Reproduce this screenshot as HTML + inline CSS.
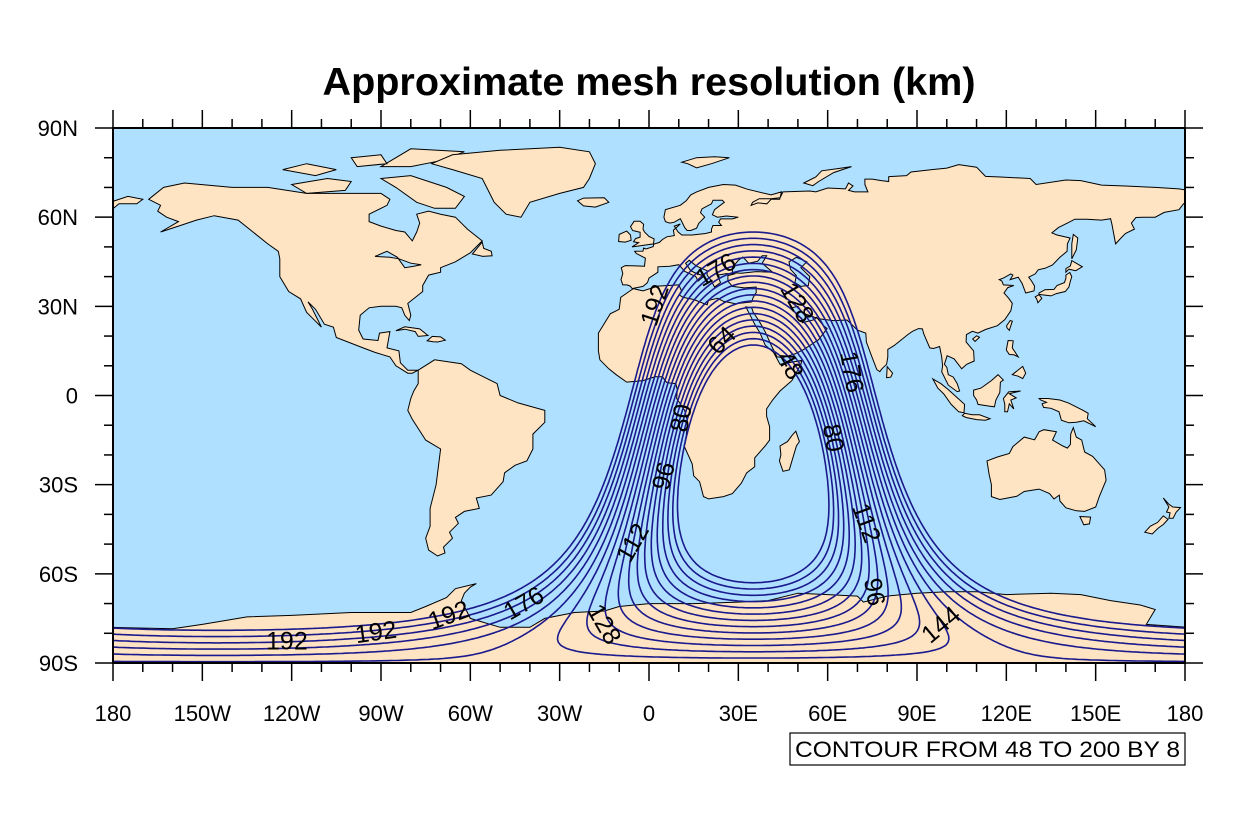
<!DOCTYPE html>
<html><head><meta charset="utf-8"><style>
html,body{margin:0;padding:0;background:#fff;}
svg{display:block;font-family:"Liberation Sans",Arial,sans-serif;}
</style></head><body>
<svg id="chart" width="1238" height="840" viewBox="0 0 1238 840" xmlns="http://www.w3.org/2000/svg">
<defs><clipPath id="plotclip"><rect x="113" y="128" width="1072" height="535"/></clipPath></defs>
<text x="649" y="95" text-anchor="middle" font-size="39" font-weight="bold" textLength="653" lengthAdjust="spacingAndGlyphs">Approximate mesh resolution (km)</text>
<g id="plot" clip-path="url(#plotclip)">
<rect x="113" y="128" width="1072" height="535" fill="#b0e0ff"/>
<g id="land"></g>
<g id="contours"></g>
</g>
<g id="clabels"></g>
<rect x="113" y="128" width="1072" height="535" fill="none" stroke="#000" stroke-width="2"/>
<g id="axes"></g>
<g>
<rect x="790" y="733" width="395" height="32" fill="#fff" stroke="#000" stroke-width="1.2"/>
<text x="987.5" y="757" text-anchor="middle" font-size="22" textLength="385" lengthAdjust="spacingAndGlyphs">CONTOUR FROM 48 TO 200 BY 8</text>
</g>
</svg>
<script>
// ---- data ----
const levels = [48,56,64,72,80,88,96,104,112,120,128,136,144,152,160,168,176,184,192];
const centerLon = 35, centerLat = -23;
const innerRadius = 40, outerRadius = 78, innerRes = 48, outerRes = 192, aspect = 1.8;
const xTickLabels = ["180","150W","120W","90W","60W","30W","0","30E","60E","90E","120E","150E","180"];
const xTickLons = [-180,-150,-120,-90,-60,-30,0,30,60,90,120,150,180];
const yTickLabels = ["90N","60N","30N","0","30S","60S","90S"];
const yTickLats = [90,60,30,0,-30,-60,-90];
const labelText = ["176","192","64","128","48","176","80","80","96","112","112","96","144","176","192","192","192","128"];
const labelLon = [22.5,2,24.5,49.7,47.3,68,10.9,61.8,5,-5.4,72.9,75.6,98.1,-42.0,-67.2,-91.7,-121.6,-15.1];
const labelLat = [42.2,30.4,18.5,31.2,10.1,7.9,-7.6,-14.3,-27.1,-49.6,-42.9,-66.1,-77.2,-70.0,-74.0,-79.7,-82.8,-77.0];
const labelAngle = [-30,-72,-45,60,60,80,-80,80,-75,-60,70,80,-40,-30,-20,-8,0,60];

const land = [
[[-168,66],[-163,70],[-156,71.5],[-140,70],[-128,70],[-115,68],[-95,68],[-90,68],[-87,66],[-88,64],[-94,61],[-94,58.5],[-90,57],[-85,55.5],[-82,55],[-79.5,52],[-78,55],[-77,58],[-78,61],[-74,62],[-70,61],[-65,60],[-61,56],[-56,52],[-60,48],[-65,45],[-70,43],[-70,41.5],[-74,40.5],[-76,37],[-76,35],[-81,31],[-80,27],[-80.5,25.2],[-82,27],[-83,29.5],[-85,30],[-90,30],[-94,29.5],[-97,27],[-97.5,22],[-96,19],[-91,18.5],[-90.5,21],[-87,21.5],[-88,16],[-84,15],[-83.5,11],[-81,8.5],[-77.5,8.5],[-79.5,7.5],[-81,7.5],[-85,10],[-87,13],[-92,14.5],[-96,16],[-105,19.5],[-106,23],[-109,24],[-112,29],[-114.5,31.5],[-113,29],[-110,23],[-112,25],[-115,28],[-117,32.5],[-121,35],[-124,40],[-124,46],[-124.5,48.5],[-128,51],[-133,55],[-138,59],[-146,60.5],[-152,59],[-158,57],[-164,55],[-158,58.5],[-162,60],[-165,62],[-164,64]],
[[-90,73],[-80,74],[-68,70],[-62,67],[-65,63],[-72,63],[-78,65],[-85,70]],
[[-120,71],[-108,73],[-100,72],[-102,69],[-115,68]],
[[-123,76],[-115,78],[-105,76],[-112,74]],
[[-90,77],[-80,83],[-62,82],[-70,79],[-80,77]],
[[-100,80],[-90,81],[-88,78],[-98,77]],
[[-73,78],[-66,81],[-50,82.5],[-30,83.5],[-20,82],[-18,78],[-20,73],[-22,70],[-30,68],[-40,65],[-43,60],[-48,61],[-52,65],[-54,69],[-56,73],[-66,76]],
[[-24,65.5],[-22,66.4],[-15,66.5],[-13.5,65],[-18,63.4],[-22,63.8]],
[[-77.5,8.5],[-72,12],[-63,10.7],[-60,8.5],[-55,6],[-51,4],[-50,0],[-44,-2.5],[-35,-5],[-35,-9],[-39,-13],[-39,-18],[-41,-22],[-45,-23.5],[-48.5,-26],[-49,-29],[-53,-33.5],[-58,-34.5],[-57,-38],[-62,-39],[-65,-41],[-64,-43],[-67,-46],[-66,-48],[-69,-51],[-68.5,-53],[-71,-54],[-74,-52],[-75,-48],[-73.5,-44],[-73.5,-38],[-71.5,-30],[-70,-18],[-75,-15],[-79.5,-8],[-81,-5],[-80,-1],[-79,1.5],[-77.5,4]],
[[-5.5,35.8],[-9.5,33],[-10,29],[-13,27.5],[-17,21],[-17,15],[-16.5,12],[-13.5,9],[-11,7],[-7.5,4.5],[-2,5],[2,6.3],[4.5,6.3],[6,4.3],[9,4],[9.5,2],[9.3,-1],[12,-5],[13,-9],[12.5,-13.5],[11.8,-17],[14.5,-23],[15,-27],[17,-29],[18.3,-34],[20,-34.8],[25,-34],[28,-33],[31,-29.5],[32.8,-26],[35.5,-24],[35.5,-21],[39,-17],[40.5,-15],[40.5,-10.5],[39.5,-7],[39.5,-4.5],[41.5,-1.5],[44,1.5],[48,5],[51,10.5],[51.3,11.8],[44,10.5],[43.3,11.8],[41.8,14.5],[39,17],[37.3,21],[35.5,24],[34,27],[32.5,29.8],[34.5,29.5],[35,28],[37,25],[39,21.5],[41,17],[43,13],[45,12.8],[49,14],[52,15.5],[55,17.5],[57,18.8],[59.8,22.5],[58.5,23.6],[56.3,26.3],[55.5,25.5],[51.5,24.5],[51.3,26],[50,26.5],[48,29.5],[50,30],[51.5,27.8],[54.5,26.7],[57,25.8],[62,25.2],[66.5,25.4],[68.5,23.5],[70,22],[72.8,21],[73,18],[74.5,14],[76.5,8.7],[77.5,8],[78.2,9],[79.8,10.5],[80.2,13],[80.2,15.5],[82.3,16.8],[86.9,20.5],[88.5,21.6],[90.5,22.5],[91.8,22.4],[92.3,20.7],[94.3,16],[95.5,15.8],[97.6,16.5],[98.3,13],[98.6,10],[98.3,8],[100.5,3.5],[103.5,1.3],[104.3,1.5],[103.5,4],[102.2,6.2],[100.5,7],[100,9.5],[99.2,10.5],[100.1,13.4],[102.5,12.3],[105,9],[106.7,10.5],[109.2,11.6],[109,15],[106.5,18],[106.6,20.5],[108.6,21.6],[110.5,21],[113,22.2],[117,23.5],[119.5,25.5],[121.5,28.5],[122,31],[120.8,32.7],[119.2,34.5],[120.5,36.3],[122.5,37],[119,37.2],[118.5,38.5],[117.6,39],[119,39.5],[121.5,40.9],[122.2,40.5],[121.3,39],[124,39.8],[125.3,37.7],[126.5,34.5],[129.3,35.2],[129.5,36.8],[128.5,38.5],[127.5,39.8],[129.7,40.9],[130.7,42.3],[133,42.8],[135.5,43.9],[138,46.5],[140.4,48.5],[140.5,51],[141.4,53],[137,54],[135.3,54.7],[137.5,56.5],[140.5,58],[143,59.3],[147,59.3],[152,59],[155,59.5],[155.5,57.5],[156.7,51],[158.5,53],[160,54.5],[163,56],[162,58],[163.5,59.9],[166,60],[170,60],[173,61.6],[178,62.5],[179.5,64.5],[181,65],[181,69],[178,69.5],[170,70],[160,70.5],[152,70.8],[145,72.3],[140,72.5],[130,71],[128,73],[118,73.5],[113,73.7],[110,76.8],[104,77.7],[100,76.5],[95,76],[88,75.2],[86.5,74],[80.5,73.6],[80.5,72],[78,72.3],[75,72.8],[72.5,72.8],[72.5,71],[73.5,68.5],[69,68.5],[67,69],[68.5,70.5],[67,71.5],[66,69.5],[60,69.8],[56,68.5],[54,68.8],[45,68.5],[44,66.5],[41,66.2],[37,66.2],[34.8,65],[34.3,64],[36.5,64.8],[39.6,64.5],[41,66],[43.9,66],[44.5,68.5],[41,67.5],[33,69.4],[29,70.8],[25,71],[20,70],[16,68.5],[14,67.5],[12.5,65.5],[10.5,64],[5.5,62.5],[5,60],[5.5,58.5],[7,58],[8.5,58.3],[10.5,59.5],[11,58.5],[12,56.5],[12.8,55.5],[14,55.5],[16,56.3],[16.7,57.9],[18.7,60],[17.3,61.5],[17.8,62.8],[21,64.5],[21.5,65.7],[24.6,65.7],[25.3,65],[22,62.5],[21.3,60.8],[23,60],[26,60.4],[30,60],[28,59.4],[24,59.4],[23.4,58.3],[24.3,57.2],[21.5,57.2],[21,56],[21,55],[19,54.5],[14.5,54],[11,54],[9.8,55],[8.5,57],[10.5,57.7],[8.2,55.6],[8.5,53.8],[6,53.4],[4.5,52.5],[3.5,51.5],[1.6,50.9],[1.4,50.1],[-1,49.3],[-1.8,49.6],[-2,48.6],[-4.8,48.5],[-4.3,47.8],[-1.2,46.2],[-1.5,43.5],[-8,43.7],[-9.3,43],[-8.8,41],[-9.4,39],[-8.8,37.2],[-7.4,37.2],[-6.3,36.8]],
[[-181,65],[-175,67],[-170,66],[-172,64.5],[-178,64.5],[-181,62]],
[[-5.7,50],[1.5,51],[1.7,52.7],[0,53.5],[-1.5,55],[-2,56],[-1.8,57.6],[-3,58.6],[-5,58.6],[-6.2,56.8],[-5.5,55.5],[-3,54.9],[-3,53.3],[-4.5,52.8],[-5.2,51.7],[-3.5,51.4]],
[[-6,52.2],[-6.2,54],[-7.5,55.3],[-10,54.2],[-10.2,51.8],[-8,51.6]],
[[49.3,-12],[50.5,-15.5],[49.5,-17],[47.1,-25],[45,-25.5],[43.8,-22],[44.3,-20],[44,-17],[46.5,-15.5],[48,-13.5]],
[[79.8,6],[80,9.7],[81.8,7.5],[81.2,6.2]],
[[130.9,34],[135,33.5],[136.8,34.3],[139.8,35],[141,36.5],[141.5,38.5],[142,40],[141.3,41.4],[140,40.5],[140,39.4],[139.5,38],[137,37],[136,35.7],[133,35.6],[131,34.5]],
[[140,41.5],[141,42.5],[143.3,42],[145.5,43.3],[142,45.4],[141.5,43.6],[140,42.7]],
[[129.7,33.2],[131,33.9],[131.9,32.7],[130.6,31.2],[130.2,32.5]],
[[142,46],[143.5,49],[144,53],[142.5,54.2],[142,51]],
[[120.2,22.8],[121,21.9],[122,25],[121.3,25.2],[120.1,23.5]],
[[108.7,19],[110,20.1],[111,19.6],[109.5,18.2]],
[[120.6,18.5],[122.3,18.4],[122,16],[124,13],[122.5,13.7],[121,13.8],[120,15.3]],
[[122,7],[125.5,9.8],[126.5,7.5],[125.5,5.7],[124,6.5]],
[[109,1.8],[111.5,2.5],[115,5],[117.2,7],[119,5.2],[118,4.5],[117.8,1],[116.5,-1.5],[116,-3.8],[114.5,-3.6],[110.5,-3],[110,-1.5],[109,0]],
[[95.3,5.6],[98,4],[100.5,2],[103.8,-1],[106,-3],[105.8,-5.8],[104,-5.5],[101.5,-3],[99,0.5],[97,2.5]],
[[105.2,-6.8],[106,-6],[108.5,-6.5],[111,-6.5],[114.5,-7.8],[113,-8.3],[110,-8.1],[106.5,-7.4]],
[[119.5,-5.5],[119.5,-3],[119,-1],[120.8,1.2],[124.8,1.5],[121,0.6],[123.3,-0.8],[121.5,-1.5],[122.5,-4.5],[121,-2.8],[120.4,-5.5]],
[[131,-1],[134,-1],[138,-1.5],[141,-2.6],[145.8,-5],[147.5,-6],[147.2,-7.8],[150,-10.5],[146,-8.5],[143.5,-9],[141,-9.2],[138.5,-8.3],[137.7,-5.5],[135,-4.3],[132.5,-4],[132,-2.8],[133.5,-2.3],[131.5,-1.5]],
[[113.5,-22],[114.2,-26.5],[115,-30],[115,-34],[117.8,-35],[123.5,-33.9],[126,-32.3],[131,-31.5],[134.5,-33],[136,-34.8],[137.8,-33.5],[138,-35.5],[140,-37.8],[143.5,-38.8],[146.3,-39],[150,-37.5],[151.3,-33.8],[153.5,-28.5],[153,-25],[150.8,-22.5],[149,-20.5],[146.3,-19],[145.3,-15],[143.5,-14],[142.5,-10.8],[141.6,-13],[141.5,-16.5],[140.5,-17.7],[139,-17],[135.5,-15],[136.8,-12.2],[132.6,-11.5],[131,-12.2],[129.5,-14.9],[126,-14],[122.2,-17.2],[121,-19.5],[117,-20.7]],
[[144.7,-40.7],[148.3,-40.9],[147.9,-43.2],[146,-43.5]],
[[172.7,-34.5],[174.5,-36.5],[175.9,-37.5],[178.5,-37.7],[177,-39.3],[176,-41.3],[174.6,-41.3],[175,-39.5],[173.8,-39.2],[174.6,-37.5]],
[[172.7,-40.5],[174.3,-41.7],[172.7,-43.4],[171,-44.6],[169,-46.6],[166.5,-46],[168.3,-44],[170.8,-42.7]],
[[11,78.5],[16,80],[22,80.3],[27,80],[21,78],[16,76.6],[13,78]],
[[52,71.5],[56,73.5],[58,75.6],[64,76.4],[68,77],[62,75],[57,72],[55,70.6]],
[[-85,21.8],[-82,23.1],[-77,22.4],[-74.2,20.2],[-77.5,19.9],[-78.5,21.5],[-82,22.3]],
[[-74.5,18.4],[-72.8,19.9],[-70,19.7],[-68.4,18.6],[-71,18],[-72.5,18.1]],
[[-59.3,47.6],[-56,51.6],[-55.5,49.5],[-53,48.5],[-52.7,47],[-55.8,46.8]],
[[-181,-78],[-160,-78.5],[-150,-77],[-135,-74.5],[-120,-74],[-100,-73],[-80,-73],[-75,-71],[-68,-68],[-65,-65],[-58,-63.3],[-60,-64.5],[-62,-66.5],[-63,-69],[-61,-73],[-60,-75],[-50,-78],[-40,-78],[-35,-75],[-25,-73],[-15,-72.5],[-10,-71],[0,-70],[15,-70],[30,-69.5],[40,-69],[50,-66.5],[60,-67],[70,-67.5],[72,-69.5],[80,-67.5],[90,-66.5],[100,-66],[110,-66],[120,-67],[135,-66.5],[145,-67],[155,-69],[165,-70.5],[170,-72],[167,-77],[181,-78],[181,-91],[-181,-91]]
];
const water = [
[[-5.5,36],[-2,35.2],[3,36.8],[10,37.2],[11,35],[10.2,33.8],[11.5,33],[15,32.3],[19.5,30.5],[20,32],[23,32.7],[25,31.7],[29,30.9],[32,31.2],[34.5,31.5],[35,33],[36,34.6],[36,36.5],[32,36.2],[28,36.7],[26.5,38.5],[26.5,40.3],[29,41],[26,41],[23,40.5],[24,38],[22,36.5],[21,38.5],[19.5,40.5],[19.5,42],[16,43.5],[13.5,45.5],[12.3,44.5],[14,42],[16,41],[18.5,40.2],[16.5,38.5],[15.7,40],[12,41.8],[10,44],[7,43.5],[3,43.3],[3,41.5],[0,39.5],[-0.5,38],[-2,36.7]],
[[28,41.3],[28,43],[30,45.5],[31.5,46.6],[33.5,44.5],[36.5,45.2],[38,47],[39.5,47],[38,44.5],[41.5,41.5],[36,41.7],[31,41.1]],
[[47,45],[49.5,46.5],[53,45],[51,43],[52.5,41.5],[54,40],[53.5,37],[51,36.7],[49,38],[49.5,40.3],[47.5,42.5]],
[[-88,48.5],[-84.5,46.5],[-82,43],[-79,43.5],[-76.5,44],[-80,44.5],[-84,46],[-87,46.5],[-92,46.8]]
];

// ---- projection ----
const X0 = 113, X1 = 1185, Y0 = 128, Y1 = 663;
function X(lon){ return X0 + (lon + 180) / 360 * (X1 - X0); }
function Y(lat){ return Y0 + (90 - lat) / 180 * (Y1 - Y0); }
const NS = 'http://www.w3.org/2000/svg';
function mk(tag, attrs, parent){ const e = document.createElementNS(NS, tag); for (const k in attrs) e.setAttribute(k, attrs[k]); parent.appendChild(e); return e; }

// ---- land ----
const landG = document.getElementById('land');
function polyPath(pts){ return 'M' + pts.map(p => X(p[0]).toFixed(1) + ',' + Y(p[1]).toFixed(1)).join('L') + 'Z'; }
land.forEach(poly => {
  const p = mk('path', {d: polyPath(poly), fill: '#ffe4c4', stroke: '#000', 'stroke-width': '1'}, landG);
  
  
});
water.forEach(poly => {
  const p = mk('path', {d: polyPath(poly), fill: '#b0e0ff', stroke: '#000', 'stroke-width': '1'}, landG);
  
  
});

// ---- field ----
const R = Math.PI / 180;
const la0 = centerLat * R, lo0 = centerLon * R;
const cv = [Math.cos(la0)*Math.cos(lo0), Math.cos(la0)*Math.sin(lo0), Math.sin(la0)];
const ev = [-Math.sin(lo0), Math.cos(lo0), 0];
const nv = [-Math.sin(la0)*Math.cos(lo0), -Math.sin(la0)*Math.sin(lo0), Math.cos(la0)];
function field(lon, lat){
  const la = lat*R, lo = lon*R;
  const p = [Math.cos(la)*Math.cos(lo), Math.cos(la)*Math.sin(lo), Math.sin(la)];
  const cz = p[0]*cv[0]+p[1]*cv[1]+p[2]*cv[2];
  const pe = p[0]*ev[0]+p[1]*ev[1]+p[2]*ev[2];
  const pn = p[0]*nv[0]+p[1]*nv[1]+p[2]*nv[2];
  const th = Math.acos(Math.max(-1, Math.min(1, cz))) / R;
  const h = Math.hypot(pe, pn) || 1;
  const d = th * Math.sqrt(Math.pow(aspect*pe/h, 2) + Math.pow(pn/h, 2));
  let r = innerRes + (d - innerRadius) * (outerRes - innerRes) / (outerRadius - innerRadius);
  return Math.max(30, Math.min(210, r));
}
const step = 1;
const nx = 360/step + 1, ny = 180/step + 1;
const grid = [];
for (let j = 0; j < ny; j++){ const row = []; for (let i = 0; i < nx; i++) row.push(field(-180 + i*step, -90 + j*step)); grid.push(row); }
const contG = document.getElementById('contours');
levels.forEach(lv => {
  let d = '';
  for (let j = 0; j < ny-1; j++) for (let i = 0; i < nx-1; i++){
    const lon = -180 + i*step, lat = -90 + j*step;
    const v = [grid[j][i], grid[j][i+1], grid[j+1][i+1], grid[j+1][i]];
    const c = [[lon,lat],[lon+step,lat],[lon+step,lat+step],[lon,lat+step]];
    const pts = [];
    for (let k = 0; k < 4; k++){
      const a = v[k], b = v[(k+1)%4];
      if ((a < lv) !== (b < lv)){
        const t = (lv - a) / (b - a);
        const A = c[k], B = c[(k+1)%4];
        pts.push([A[0] + t*(B[0]-A[0]), A[1] + t*(B[1]-A[1])]);
      }
    }
    for (let k = 0; k + 1 < pts.length; k += 2)
      d += 'M' + X(pts[k][0]).toFixed(1) + ',' + Y(pts[k][1]).toFixed(1) + 'L' + X(pts[k+1][0]).toFixed(1) + ',' + Y(pts[k+1][1]).toFixed(1);
  }
  const p = mk('path', {d: d, fill: 'none', stroke: '#1a1a8c', 'stroke-width': '1.6', 'stroke-linecap': 'round'}, contG);
  
  
});

// ---- contour labels ----
const labG = document.getElementById('clabels');
labelText.forEach((t, i) => {
  const x = X(labelLon[i]), y = Y(labelLat[i]);
  const e = mk('text', {x: x, y: y + 8, 'text-anchor': 'middle', 'font-size': '25', fill: '#000', transform: 'rotate(' + labelAngle[i] + ' ' + x + ' ' + y + ')'}, labG);
  e.textContent = t;
  
  
});

// ---- axes ----
const ax = document.getElementById('axes');
for (let lon = -180; lon <= 180; lon += 10){
  const major = lon % 30 === 0, L = major ? 18 : 9, x = X(lon);
  mk('line', {x1: x, y1: Y1, x2: x, y2: Y1 + L, stroke: '#000', 'stroke-width': '1.5'}, ax);
  mk('line', {x1: x, y1: Y0, x2: x, y2: Y0 - L, stroke: '#000', 'stroke-width': '1.5'}, ax);
}
for (let lat = -90; lat <= 90; lat += 10){
  const major = lat % 30 === 0, L = major ? 18 : 9, y = Y(lat);
  mk('line', {x1: X0, y1: y, x2: X0 - L, y2: y, stroke: '#000', 'stroke-width': '1.5'}, ax);
  mk('line', {x1: X1, y1: y, x2: X1 + L, y2: y, stroke: '#000', 'stroke-width': '1.5'}, ax);
}
xTickLabels.forEach((t, i) => {
  const e = mk('text', {x: X(xTickLons[i]), y: 721, 'text-anchor': 'middle', 'font-size': '22'}, ax);
  e.textContent = t;
  
  
});
yTickLabels.forEach((t, i) => {
  const e = mk('text', {x: 78, y: Y(yTickLats[i]) + 8, 'text-anchor': 'end', 'font-size': '22'}, ax);
  e.textContent = t;
  
  
});
</script>
</body></html>
